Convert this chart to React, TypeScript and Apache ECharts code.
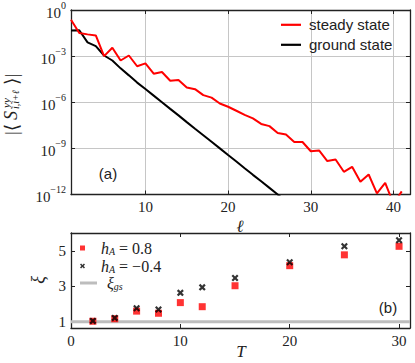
import React, { useEffect, useRef } from "react";
import * as echarts from "echarts";

// ---------- data ----------
const ell = [1, 2, 3, 4, 5, 6, 7, 8, 9, 10, 11, 12, 13, 14, 15, 16, 17, 18, 19, 20, 21, 22, 23, 24, 25, 26, 27, 28, 29, 30, 31, 32, 33, 34, 35, 36, 37, 38, 39, 40, 41];
const steadyState = [2.3e-1, 3.2e-2, 2.6e-2, 2.2e-2, 1.0e-3, 3.5e-3, 5.2e-4, 1.1e-3, 2.2e-4, 3.4e-4, 7.2e-5, 9.3e-5, 2.5e-5, 2.8e-5, 9.1e-6, 7.1e-6, 2.9e-6, 2.0e-6, 8.3e-7, 5.1e-7, 2.8e-7, 1.5e-7, 8.9e-8, 3.9e-8, 2.8e-8, 1.0e-8, 7.9e-9, 2.6e-9, 2.6e-9, 6.5e-10, 7.4e-10, 1.5e-10, 1.9e-10, 3.0e-11, 6.3e-11, 6.8e-12, 2.0e-11, 1.2e-12, 5.8e-12, 2.5e-13, 1.6e-12];
const groundState = [4.6e-2, 4.8e-2, 7.9e-3, 4.5e-3, 1.1e-3, 5.2e-4, 1.6e-4, 5.6e-5, 1.9e-5, 7.2e-6, 2.7e-6, 1.0e-6, 3.7e-7, 1.4e-7, 5.1e-8, 1.9e-8, 7.2e-9, 2.7e-9, 1.0e-9, 3.7e-10, 1.4e-10, 5.1e-11, 1.9e-11, 7.2e-12, 2.7e-12, 1.0e-12, 3.7e-13];
const ellRange = [1, 42];
const ellTicks = [10, 20, 30, 40];
const corrRange = [1e-12, 1];

const T = [2, 4, 6, 8, 10, 12, 15, 20, 25, 30];
const xiHA08 = [1.03, 1.17, 1.6, 1.48, 2.08, 1.85, 3.03, 4.16, 4.77, 5.25];
const xiHAm04 = [1.05, 1.22, 1.76, 1.69, 2.63, 2.94, 3.47, 4.35, 5.25, 5.59];
const xiGs = 1.0;
const tRange = [0, 31];
const xiRange = [0.65, 6];
const xiTicks = [1, 3, 5];

// ---------- style ----------
const serif = "'Liberation Serif', 'DejaVu Serif', serif";
const sans = "'Liberation Sans', 'DejaVu Sans', sans-serif";
const ink = "#222";
const frame = "#222";
const crossPath = "path://M0,2.2 L2.2,0 L5,2.8 L7.8,0 L10,2.2 L7.2,5 L10,7.8 L7.8,10 L5,7.2 L2.2,10 L0,7.8 L2.8,5 Z";
const squarePath = "path://M0,0 L10,0 L10,10 L0,10 Z";
const lineIcon = (w: number, h: number) => `path://M0,0 L${w},0 L${w},${h} L0,${h} Z`;

const powLabel = (v: number) => {
  const e = Math.round(Math.log10(v));
  return `{b|10}{s|${e < 0 ? "\u2212" + -e : e}}`;
};

const axisFrame = { show: true, onZero: false, lineStyle: { color: frame, width: 1.3 } };
const tickIn = { show: true, inside: true, length: 4, lineStyle: { color: frame, width: 1 } };
const numLabel = { fontFamily: serif, fontSize: 15, color: ink };

const legendRich = {
  it: { fontFamily: serif, fontStyle: "italic", fontSize: 16, color: ink, verticalAlign: "top" },
  rm: { fontFamily: serif, fontSize: 16, color: ink, verticalAlign: "top" },
  sub: { fontFamily: serif, fontStyle: "italic", fontSize: 10, color: ink, verticalAlign: "bottom", padding: [5, 0, 0, 0] },
};
const legendText: Record<string, string> = {
  hA08: "{it|h}{sub|A}{rm| = 0.8}",
  hAm04: "{it|h}{sub|A}{rm| = \u22120.4}",
  xigs: "{it|\u03be}{sub|gs}",
};

const bottomLegend = (name: string, icon: string, top: number, h: number) => ({
  data: [{ name, icon }],
  left: 80,
  top,
  padding: 0,
  itemWidth: 17,
  itemHeight: h,
  formatter: (n: string) => legendText[n],
  textStyle: { rich: legendRich, padding: [0, 0, 0, 5] },
  selectedMode: false,
});

const topLegend = (name: string, top: number) => ({
  data: [{ name, icon: lineIcon(20, 2.2) }],
  left: 281,
  top,
  padding: 0,
  itemWidth: 20,
  itemHeight: 14,
  textStyle: { fontFamily: sans, fontSize: 15, color: ink, padding: [0, 0, 0, 3] },
  selectedMode: false,
});

const option: any = {
  animation: false,
  backgroundColor: "#fff",
  grid: [
    { left: 71, right: 5, top: 8.5, bottom: 168.5 },
    { left: 71, right: 5, top: 233, bottom: 35 },
  ],
  xAxis: [
    {
      type: "value", gridIndex: 0, position: "bottom", min: ellRange[0], max: ellRange[1],
      axisLine: axisFrame,
      axisTick: { ...tickIn, customValues: ellTicks },
      axisLabel: { ...numLabel, margin: 5, customValues: ellTicks },
      splitLine: { show: true, lineStyle: { color: "#c6c6c6", width: 1 } },
    },
    {
      type: "value", gridIndex: 0, position: "top", min: ellRange[0], max: ellRange[1],
      axisLine: axisFrame,
      axisTick: { ...tickIn, customValues: ellTicks },
      axisLabel: { show: false },
      splitLine: { show: false },
    },
    {
      type: "value", gridIndex: 1, position: "bottom", min: tRange[0], max: tRange[1], interval: 10,
      axisLine: axisFrame,
      axisTick: tickIn,
      axisLabel: { ...numLabel, margin: 5 },
      splitLine: { show: false },
    },
    {
      type: "value", gridIndex: 1, position: "top", min: tRange[0], max: tRange[1], interval: 10,
      axisLine: axisFrame,
      axisTick: tickIn,
      axisLabel: { show: false },
      splitLine: { show: false },
    },
  ],
  yAxis: [
    {
      type: "log", logBase: 10, gridIndex: 0, position: "left", min: corrRange[0], max: corrRange[1], interval: 3,
      axisLine: axisFrame,
      axisTick: tickIn,
      axisLabel: {
        margin: 5,
        formatter: powLabel,
        rich: {
          b: { fontFamily: serif, fontSize: 15, color: ink, verticalAlign: "bottom" },
          s: { fontFamily: serif, fontSize: 10, color: ink, verticalAlign: "top", padding: [0, 0, 10, 0] },
        },
      },
      splitLine: { show: true, lineStyle: { color: "#c6c6c6", width: 1 } },
    },
    {
      type: "log", logBase: 10, gridIndex: 0, position: "right", min: corrRange[0], max: corrRange[1], interval: 3,
      axisLine: axisFrame,
      axisTick: tickIn,
      axisLabel: { show: false },
      splitLine: { show: false },
    },
    {
      type: "value", gridIndex: 1, position: "left", min: xiRange[0], max: xiRange[1],
      axisLine: axisFrame,
      axisTick: { ...tickIn, customValues: xiTicks },
      axisLabel: { ...numLabel, margin: 5, customValues: xiTicks },
      splitLine: { show: false },
    },
    {
      type: "value", gridIndex: 1, position: "right", min: xiRange[0], max: xiRange[1],
      axisLine: axisFrame,
      axisTick: { ...tickIn, customValues: xiTicks },
      axisLabel: { show: false },
      splitLine: { show: false },
    },
  ],
  legend: [
    topLegend("steady state", 17.3),
    topLegend("ground state", 37.3),
    bottomLegend("hA08", squarePath, 240, 5),
    bottomLegend("hAm04", crossPath, 258, 5),
    bottomLegend("xigs", lineIcon(17, 3), 275, 5),
  ],
  series: [
    {
      type: "line", name: "steady state", xAxisIndex: 0, yAxisIndex: 0,
      data: ell.map((l, i) => [l, steadyState[i]]),
      symbol: "none", clip: true,
      lineStyle: { color: "#ff0000", width: 2 }, itemStyle: { color: "#ff0000" },
      z: 3,
    },
    {
      type: "line", name: "ground state", xAxisIndex: 0, yAxisIndex: 0,
      data: groundState.map((g, i) => [ell[i], g]),
      symbol: "none", clip: true,
      lineStyle: { color: "#000", width: 2 }, itemStyle: { color: "#000" },
      z: 2,
    },
    {
      type: "line", name: "xigs", xAxisIndex: 2, yAxisIndex: 2,
      data: [[tRange[0], xiGs], [tRange[1], xiGs]],
      symbol: "none",
      lineStyle: { color: "#bdbdbd", width: 3 }, itemStyle: { color: "#bdbdbd" },
      z: 1,
    },
    {
      type: "scatter", name: "hA08", xAxisIndex: 2, yAxisIndex: 2,
      data: T.map((t, i) => [t, xiHA08[i]]),
      symbol: "rect", symbolSize: 7,
      itemStyle: { color: "#ff0000" }, z: 3,
    },
    {
      type: "scatter", name: "hAm04", xAxisIndex: 2, yAxisIndex: 2,
      data: T.map((t, i) => [t, xiHAm04[i]]),
      symbol: crossPath, symbolSize: 7,
      itemStyle: { color: "#000" }, z: 4,
    },
  ],
  graphic: [
    {
      type: "group", x: 11, y: 135, rotation: Math.PI / 2,
      children: [
        { type: "text", x: 0, y: 0, style: { text: "|\u27e8", fontFamily: serif, fontSize: 19, fill: ink, align: "left", verticalAlign: "middle" } },
        { type: "text", x: 15, y: 0, style: { text: "S", fontFamily: serif, fontStyle: "italic", fontSize: 18, fill: ink, align: "left", verticalAlign: "middle" } },
        { type: "text", x: 27, y: -5, style: { text: "yy", fontFamily: serif, fontStyle: "italic", fontSize: 11, fill: ink, align: "left", verticalAlign: "middle" } },
        { type: "text", x: 26, y: 4, style: { text: "i,i+\u2113", fontFamily: serif, fontStyle: "italic", fontSize: 10, fill: ink, align: "left", verticalAlign: "middle" } },
        { type: "text", x: 50, y: 0, style: { text: "\u27e9|", fontFamily: serif, fontSize: 19, fill: ink, align: "left", verticalAlign: "middle" } },
      ],
    },
    { type: "text", x: 240, y: 226, style: { text: "\u2113", fontFamily: serif, fontStyle: "italic", fontSize: 17, fill: ink, align: "center", verticalAlign: "middle" } },
    { type: "text", x: 241, y: 351, style: { text: "T", fontFamily: serif, fontStyle: "italic", fontSize: 17, fill: ink, align: "center", verticalAlign: "middle" } },
    { type: "text", x: 38, y: 280, rotation: Math.PI / 2, style: { text: "\u03be", fontFamily: serif, fontStyle: "italic", fontSize: 18, fill: ink, align: "center", verticalAlign: "middle" } },
    { type: "text", x: 108, y: 173, style: { text: "(a)", fontFamily: sans, fontSize: 15, fill: ink, align: "center", verticalAlign: "middle" } },
    { type: "text", x: 388, y: 307, style: { text: "(b)", fontFamily: sans, fontSize: 15, fill: ink, align: "center", verticalAlign: "middle" } },
  ],
};

export default function App() {
  const ref = useRef<HTMLDivElement>(null);
  useEffect(() => {
    const chart = echarts.init(ref.current!, null, { renderer: "svg" });
    chart.setOption(option);
    return () => chart.dispose();
  }, []);
  return (
    <div
      ref={ref}
      style={{ position: "fixed", left: 0, top: 0, width: 415, height: 363, background: "#fff" }}
    />
  );
}
